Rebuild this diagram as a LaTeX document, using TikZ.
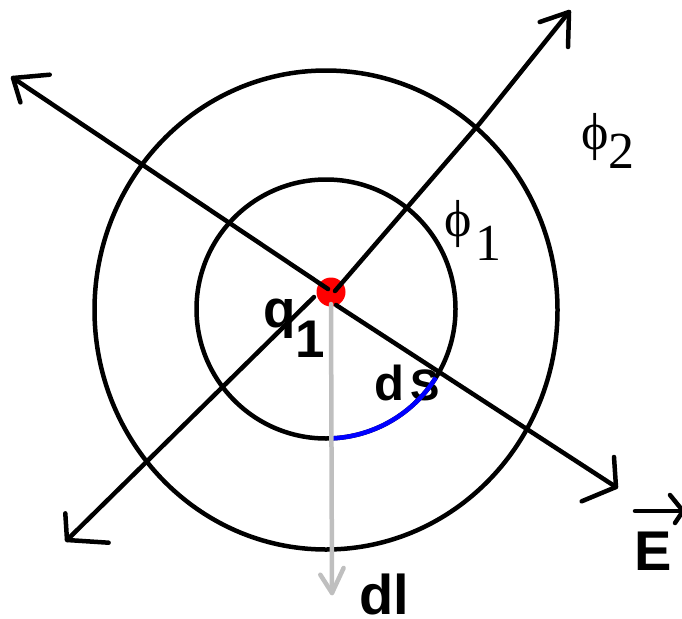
\documentclass[tikz,border=0pt]{standalone}
\usepackage{fontspec}
\setmainfont{Liberation Serif}
\setsansfont{Liberation Sans}
\usetikzlibrary{shapes.geometric}
\tikzset{
  axis/.style={draw=black, line width=4.5pt, line cap=round, line join=round},
  ring/.style={draw=black, line width=4.5pt},
  grayarrow/.style={draw=black!25, line width=4.5pt, line cap=round, line join=round},
  arcds/.style={draw=blue, line width=4.5pt},
  sflab/.style={inner sep=0pt, anchor=base west, font=\sffamily\bfseries},
  rmlab/.style={inner sep=0pt, anchor=base west, font=\rmfamily},
}
\begin{document}
\begin{tikzpicture}[x=1pt, y=-1pt]
\useasboundingbox (0,0) rectangle (682,618);
\clip (0,0) rectangle (682,618);
% labels (below the lines)
\node[sflab] (q1) at (263,327) {\fontsize{53}{53}\selectfont q\raisebox{-30pt}{1}};
\node[sflab] (dS) at (374.5,400.5) {\fontsize{49}{49}\selectfont d\kern6pt\fontsize{44}{44}\selectfont S};
\node[sflab] (dl) at (359.5,614) {\fontsize{56}{56}\selectfont dl};
\node[sflab] (E) at (634,570) {\fontsize{56}{56}\selectfont E};
\node[rmlab] (phi1) at (444,236) {\fontsize{52}{52}\selectfont ϕ\kern4pt\raisebox{-24pt}{1}};
\node[rmlab] (phi2) at (581,149) {\fontsize{52}{52}\selectfont ϕ\raisebox{-19pt}{2}};
% circles
\node[circle, ring, minimum size=259pt, inner sep=0pt] (inner) at (326,309) {};
\node[ellipse, ring, minimum width=463pt, minimum height=479pt, inner sep=0pt] (outer) at (326,310) {};
% blue arc dS
\coordinate (c0) at (326,309);
\draw[arcds] (c0) ++(88:129.5) coordinate (arcA) arc[start angle=88, end angle=32, radius=129.5] coordinate (arcB);
% charge
\node[circle, fill=red, draw=none, minimum size=29pt, inner sep=0pt] (dot) at (331,292) {};
% coordinates of the field lines
\coordinate (nwS) at (328,289);
\coordinate (nwT) at (13,78);
\coordinate (seS) at (336,305);
\coordinate (seT) at (616,487);
\coordinate (neS) at (335,291);
\coordinate (neM) at (480,123);
\coordinate (neT) at (569,12);
\coordinate (swS) at (314,297);
\coordinate (swT) at (67,540);
\coordinate (dlS) at (331,304);
\coordinate (dlT) at (332,593);
\coordinate (eS) at (635,511);
\coordinate (eT) at (683,511);
% gray dl arrow
\draw[grayarrow] (dlS) -- (dlT);
\draw[grayarrow] (dlT) ++(-11.7,-18.3) -- (dlT) -- ++(11.6,-25);
% field lines
\draw[axis] (nwS) -- (nwT);
\draw[axis] (nwT) ++(36.7,-3.3) -- (nwT) -- ++(7.4,24.4);
\draw[axis] (seS) -- (seT);
\draw[axis] (seT) ++(-2,-30) -- (seT) -- ++(-34.3,14.3);
\draw[axis] (neS) -- (neM) -- (neT);
\draw[axis] (neT) ++(-29.3,10) -- (neT) -- ++(-1,35);
\draw[axis] (swS) -- (swT);
\draw[axis] (swT) ++(-1.7,-26.7) -- (swT) -- ++(41.6,2.7);
% vector arrow over E
\draw[axis] (eS) -- (eT);
\draw[axis] (eT) ++(-13,-16) -- (eT) -- ++(-8,12);
\end{tikzpicture}
\end{document}
